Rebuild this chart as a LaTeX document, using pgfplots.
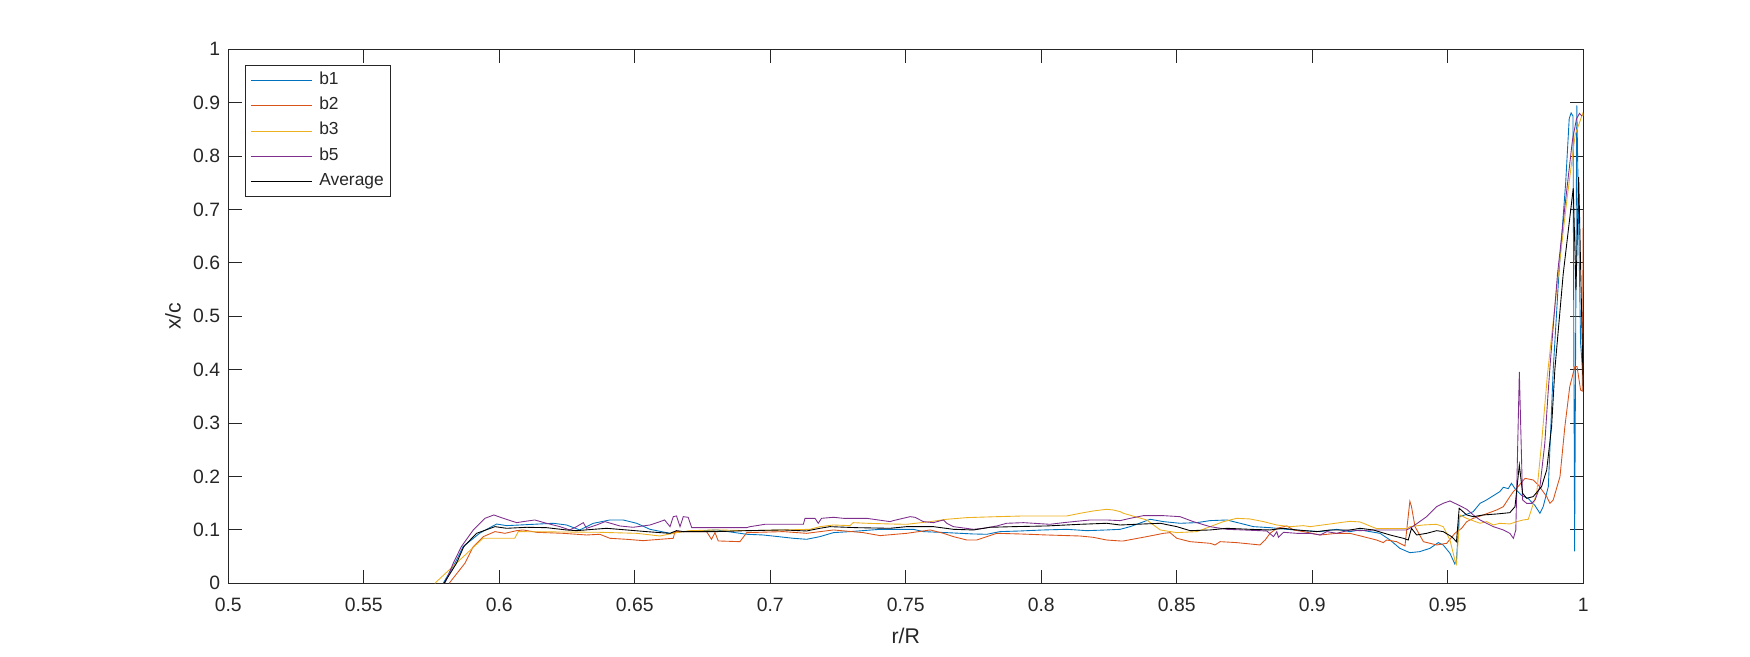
\documentclass[border=0pt]{standalone}
\usepackage{fontspec}
\setmainfont{Liberation Sans}
\usepackage{pgfplots}
\pgfplotsset{compat=1.18}
\definecolor{axgray}{RGB}{38,38,38}
\definecolor{cb1}{RGB}{0,114,189}
\definecolor{cb2}{RGB}{217,83,25}
\definecolor{cb3}{RGB}{237,177,32}
\definecolor{cb5}{RGB}{126,47,142}
\begin{document}
\begin{tikzpicture}
\useasboundingbox (-4.566cm,-1.454cm) rectangle (30.434cm,11.666cm);
\begin{axis}[
  scale only axis,
  width=27.1cm, height=10.68cm,
  at={(0,0)}, anchor=south west,
  xmin=0.5, xmax=1, ymin=0, ymax=1,
  xtick={0.5,0.55,0.6,0.65,0.7,0.75,0.8,0.85,0.9,0.95,1},
  xticklabels={0.5,0.55,0.6,0.65,0.7,0.75,0.8,0.85,0.9,0.95,1},
  ytick={0,0.1,0.2,0.3,0.4,0.5,0.6,0.7,0.8,0.9,1},
  yticklabels={0,0.1,0.2,0.3,0.4,0.5,0.6,0.7,0.8,0.9,1},
  tick align=inside,
  major tick length=0.27cm,
  axis line style={axgray, line width=0.6pt},
  every tick/.style={axgray, line width=0.6pt},
  tick label style={font=\fontsize{11}{13}\selectfont, text=axgray},
  xticklabel style={yshift=-0.17cm},
  yticklabel style={xshift=-0.04cm},
  xlabel={r/R}, ylabel={x/c},
  label style={font=\fontsize{12.1}{14}\selectfont, text=axgray},
  xlabel style={at={([yshift=-1.054cm]axis description cs:0.5,0)}, anchor=center},
  ylabel style={at={([xshift=-1.106cm]axis description cs:0,0.5)}, anchor=center, rotate=0},
  legend cell align=left,
  legend image code/.code={\draw[#1] (0cm,0cm) -- (1.23cm,0cm);},
  legend style={at={(0,1)}, anchor=north west, xshift=0.334cm, yshift=-0.314cm,
    draw=axgray, line width=0.5pt, fill=white,
    font=\fontsize{9.9}{12}\selectfont, text=axgray,
    inner xsep=0.1cm, inner ysep=0.04cm, row sep=0pt,
    /tikz/every odd column/.append style={column sep=0.1cm},
    nodes={inner xsep=0.03cm, inner ysep=0.094cm, text height=0.24cm, text depth=0.08cm}},
  every axis plot/.append style={line width=0.5pt},
]
% b1
\addplot[cb1] coordinates {
(0.5793,0) (0.5836,0.0375) (0.5867,0.069) (0.5928,0.094) (0.599,0.111) (0.6027,0.108) (0.6076,0.1092) (0.6199,0.1124) (0.6248,0.1092) (0.6297,0.0999) (0.6347,0.1124) (0.6408,0.1186) (0.6457,0.1186) (0.6507,0.1124) (0.6556,0.1011) (0.663,0.0936) (0.6679,0.0968) (0.6802,0.0999) (0.6913,0.0918) (0.6974,0.0905) (0.7085,0.0843) (0.7134,0.0824) (0.7183,0.0874) (0.7233,0.0949) (0.7294,0.0968) (0.7405,0.1011) (0.7528,0.1011) (0.7565,0.0968) (0.7651,0.0949) (0.7749,0.0924) (0.7799,0.0918) (0.7848,0.0968) (0.7922,0.098) (0.8008,0.0999) (0.8094,0.1011) (0.8168,0.0986) (0.8241,0.0999) (0.8291,0.1011) (0.8328,0.1061) (0.8402,0.1199) (0.8451,0.1155) (0.8512,0.1124) (0.8574,0.1136) (0.8623,0.1174) (0.8685,0.1186) (0.8734,0.1124) (0.8783,0.1061) (0.8844,0.1042) (0.8906,0.1011) (0.8967,0.0986) (0.9029,0.0968) (0.909,0.1011) (0.9139,0.0968) (0.9176,0.0999) (0.925,0.0936) (0.9287,0.0811) (0.9323,0.0655) (0.936,0.0574) (0.9397,0.0593) (0.9434,0.0655) (0.9465,0.0762) (0.9483,0.0718) (0.9508,0.0562) (0.9526,0.0362) (0.9532,0.0437) (0.9542,0.1248) (0.9563,0.128) (0.9594,0.1342) (0.9619,0.1498) (0.9643,0.1561) (0.9692,0.1717) (0.9705,0.1798) (0.9723,0.1773) (0.9735,0.1873) (0.9748,0.1773) (0.9772,0.1648) (0.9797,0.1586) (0.9821,0.1461) (0.984,0.1311) (0.9852,0.1436) (0.9871,0.1811) (0.9889,0.40) (0.991,0.58) (0.9935,0.75) (0.9948,0.87) (0.9955,0.881) (0.9962,0.875) (0.9968,0.06) (0.9976,0.895) (0.9990,0.45) (1.0,0.38)
};
\addlegendentry{b1}
% b2
\addplot[cb2] coordinates {
(0.5815,0) (0.5873,0.0375) (0.5904,0.0687) (0.5941,0.0874) (0.5984,0.0968) (0.6021,0.0936) (0.6064,0.0986) (0.6088,0.0999) (0.6138,0.0955) (0.6236,0.0936) (0.6322,0.0905) (0.6371,0.0918) (0.6408,0.0843) (0.647,0.0824) (0.6531,0.0799) (0.6593,0.0824) (0.6642,0.0843) (0.6648,0.0968) (0.6765,0.0968) (0.6783,0.0824) (0.6796,0.0949) (0.6808,0.0793) (0.6888,0.078) (0.6913,0.0949) (0.7048,0.0968) (0.7134,0.0936) (0.7233,0.0999) (0.7343,0.0949) (0.7405,0.0893) (0.7503,0.0936) (0.759,0.0999) (0.7639,0.0936) (0.7676,0.0874) (0.7725,0.0811) (0.7762,0.0811) (0.7799,0.0874) (0.7836,0.0936) (0.7922,0.0924) (0.802,0.0905) (0.8143,0.0886) (0.8192,0.0861) (0.8241,0.0811) (0.8291,0.0793) (0.8303,0.0793) (0.8389,0.0874) (0.8451,0.0936) (0.8475,0.0949) (0.85,0.0843) (0.8549,0.078) (0.8623,0.0749) (0.8641,0.0718) (0.866,0.078) (0.8721,0.0762) (0.877,0.0737) (0.8807,0.0718) (0.8826,0.0811) (0.8844,0.0936) (0.8869,0.103) (0.8906,0.1074) (0.8931,0.0999) (0.8967,0.0968) (0.9029,0.0905) (0.909,0.0936) (0.9139,0.0936) (0.9188,0.0874) (0.9237,0.0811) (0.9262,0.0762) (0.9274,0.0811) (0.9311,0.078) (0.9342,0.0699) (0.936,0.1536) (0.9366,0.1436) (0.9379,0.1061) (0.941,0.078) (0.9459,0.0718) (0.9496,0.0749) (0.9526,0.0936) (0.9551,0.103) (0.957,0.1155) (0.9594,0.1217) (0.9631,0.128) (0.968,0.1373) (0.9705,0.1436) (0.9729,0.1623) (0.9742,0.1717) (0.9754,0.1779) (0.9785,0.1966) (0.9815,0.1935) (0.9834,0.1842) (0.9865,0.1623) (0.9877,0.1498) (0.9889,0.1561) (0.9914,0.1998) (0.9932,0.2934) (0.995,0.3683) (0.9969,0.4058) (0.9977,0.4058) (0.9990,0.362) (0.9996,0.36) (1.0,0.70)
};
\addlegendentry{b2}
% b3
\addplot[cb3] coordinates {
(0.5762,0) (0.594,0.0843) (0.6057,0.0843) (0.607,0.0968) (0.6371,0.0955) (0.6507,0.0936) (0.6593,0.0886) (0.6654,0.0949) (0.6704,0.0986) (0.6802,0.0999) (0.6925,0.0986) (0.7048,0.0999) (0.7146,0.1011) (0.7183,0.1061) (0.7233,0.1092) (0.7294,0.108) (0.7306,0.1136) (0.7356,0.1124) (0.7442,0.1111) (0.7503,0.1105) (0.759,0.1155) (0.7651,0.1199) (0.7725,0.123) (0.7836,0.1248) (0.7934,0.1261) (0.8094,0.1261) (0.8143,0.1311) (0.8192,0.1355) (0.8241,0.1386) (0.8266,0.1373) (0.8291,0.1342) (0.8303,0.1311) (0.8389,0.1186) (0.8439,0.0999) (0.85,0.0949) (0.8574,0.0968) (0.8623,0.1061) (0.8672,0.1155) (0.8721,0.1217) (0.877,0.1205) (0.882,0.1155) (0.8869,0.1092) (0.8918,0.1061) (0.8967,0.108) (0.8992,0.1061) (0.9066,0.1111) (0.9102,0.1136) (0.9139,0.1161) (0.9176,0.1149) (0.9237,0.1024) (0.9348,0.1024) (0.936,0.1061) (0.9409,0.1092) (0.9458,0.1105) (0.9483,0.1061) (0.9508,0.0811) (0.9526,0.0437) (0.9532,0.0362) (0.9545,0.128) (0.9569,0.1217) (0.9619,0.1124) (0.9643,0.1155) (0.9668,0.1092) (0.9692,0.1124) (0.9729,0.1111) (0.9754,0.1155) (0.9778,0.1186) (0.9797,0.1199) (0.9828,0.1686) (0.9846,0.2622) (0.9867,0.387) (0.9908,0.58) (0.994,0.72) (0.997,0.84) (0.9998,0.88) (1.0,0.875)
};
\addlegendentry{b3}
% b5
\addplot[cb5] coordinates {
(0.5799,0) (0.583,0.0375) (0.586,0.0687) (0.5904,0.0999) (0.5947,0.1217) (0.598,0.128) (0.6015,0.1217) (0.6064,0.1136) (0.6088,0.1155) (0.6131,0.1186) (0.6174,0.1124) (0.6224,0.1061) (0.626,0.0999) (0.6285,0.1061) (0.631,0.1136) (0.6322,0.103) (0.6359,0.1092) (0.639,0.1155) (0.6445,0.1074) (0.6494,0.1049) (0.6556,0.1092) (0.6593,0.1155) (0.661,0.1186) (0.663,0.1061) (0.6642,0.1248) (0.6654,0.1261) (0.6667,0.1061) (0.6679,0.1248) (0.6697,0.1236) (0.671,0.1042) (0.6913,0.1042) (0.6925,0.1061) (0.695,0.108) (0.698,0.1105) (0.7122,0.1105) (0.7128,0.1217) (0.7165,0.1217) (0.7177,0.1124) (0.7189,0.1217) (0.7233,0.1236) (0.727,0.1217) (0.7356,0.1217) (0.7442,0.1155) (0.7454,0.1174) (0.7516,0.1248) (0.7534,0.1236) (0.7565,0.1155) (0.7602,0.1136) (0.7639,0.1186) (0.7651,0.1124) (0.7676,0.1061) (0.775,0.1011) (0.7786,0.103) (0.7836,0.1074) (0.7872,0.1124) (0.7934,0.1136) (0.8032,0.1105) (0.8082,0.1136) (0.8118,0.1155) (0.818,0.1186) (0.8241,0.1186) (0.8291,0.1174) (0.8328,0.1217) (0.8377,0.1267) (0.8451,0.1267) (0.8512,0.1248) (0.8561,0.1155) (0.8623,0.1061) (0.8685,0.1011) (0.8746,0.0999) (0.8832,0.098) (0.8857,0.0874) (0.8869,0.0968) (0.8875,0.0861) (0.8894,0.0955) (0.8943,0.0936) (0.8992,0.0936) (0.9029,0.0905) (0.9054,0.0968) (0.909,0.0936) (0.914,0.0999) (0.9176,0.0986) (0.9225,0.0999) (0.9348,0.0999) (0.937,0.1061) (0.9422,0.1248) (0.9459,0.1436) (0.9483,0.1498) (0.9508,0.1542) (0.9526,0.1498) (0.9539,0.1467) (0.957,0.1386) (0.9594,0.128) (0.9619,0.1186) (0.9643,0.1124) (0.9668,0.1061) (0.9705,0.0999) (0.9729,0.0936) (0.9742,0.0842) (0.9751,0.0999) (0.9764,0.3958) (0.9776,0.1561) (0.9791,0.1498) (0.981,0.1498) (0.9822,0.1561) (0.984,0.1811) (0.9858,0.2622) (0.987,0.3558) (0.9879,0.4182) (0.9905,0.58) (0.9932,0.705) (0.996,0.83) (0.9975,0.87) (0.9986,0.88) (0.9995,0.875)
};
\addlegendentry{b5}
% Average
\addplot[black] coordinates {
(0.5796,0) (0.5842,0.0375) (0.5869,0.0687) (0.5916,0.0936) (0.5984,0.1061) (0.6027,0.103) (0.6101,0.1049) (0.6174,0.1042) (0.6248,0.0999) (0.6285,0.0986) (0.6347,0.1011) (0.6396,0.103) (0.647,0.0999) (0.6543,0.0968) (0.6593,0.0949) (0.663,0.0936) (0.6654,0.0986) (0.6679,0.0968) (0.6802,0.0968) (0.6913,0.0986) (0.7048,0.0999) (0.7134,0.098) (0.7183,0.103) (0.722,0.1061) (0.7319,0.1042) (0.7442,0.103) (0.7503,0.1061) (0.7602,0.1061) (0.7676,0.1011) (0.775,0.0999) (0.7811,0.1049) (0.7897,0.1061) (0.802,0.1074) (0.8143,0.1105) (0.8241,0.1124) (0.8291,0.1092) (0.8377,0.1111) (0.8439,0.1124) (0.85,0.1061) (0.8549,0.0986) (0.8623,0.0999) (0.8685,0.103) (0.8771,0.1011) (0.8844,0.0999) (0.8894,0.103) (0.8943,0.0999) (0.9017,0.0968) (0.9066,0.0999) (0.914,0.0999) (0.9176,0.103) (0.9225,0.0999) (0.9287,0.0905) (0.9336,0.0843) (0.9354,0.0811) (0.9366,0.103) (0.9385,0.0905) (0.9422,0.0936) (0.9459,0.0986) (0.9483,0.0968) (0.9514,0.0874) (0.9532,0.078) (0.9542,0.1405) (0.957,0.128) (0.9594,0.1248) (0.9631,0.128) (0.968,0.1298) (0.9729,0.1323) (0.9748,0.1436) (0.9764,0.2216) (0.9776,0.1685) (0.9791,0.1592) (0.9815,0.1623) (0.9846,0.1811) (0.9865,0.2122) (0.9883,0.2934) (0.9895,0.40) (0.9926,0.58) (0.9963,0.74) (0.9973,0.549) (0.9983,0.761) (1.0,0.36)
};
\addlegendentry{Average}
\end{axis}
\end{tikzpicture}
\end{document}
